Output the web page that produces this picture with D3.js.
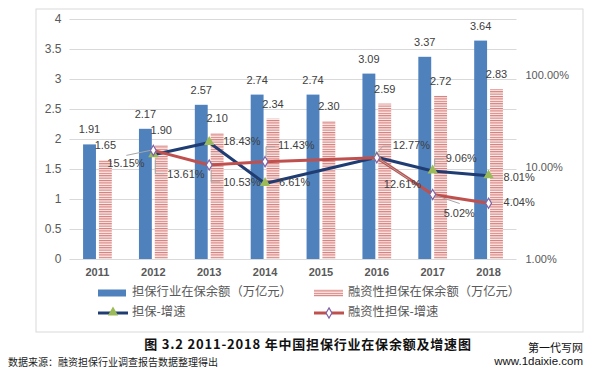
<!DOCTYPE html>
<html>
<head>
<meta charset="utf-8">
<script src="https://cdn.jsdelivr.net/npm/d3@7"></script>
<style>
  body { margin: 0; background: #fff; }
  text { font-family: "Liberation Sans", Arial, sans-serif; }
  .cjk { font-family: "Noto Sans CJK SC", sans-serif; }
</style>
</head>
<body>
<div id="chart"></div>
<script>
const years = ["2011", "2012", "2013", "2014", "2015", "2016", "2017", "2018"];
const balance = [1.91, 2.17, 2.57, 2.74, 2.74, 3.09, 3.37, 3.64];
const financing = [1.65, 1.9, 2.1, 2.34, 2.3, 2.59, 2.72, 2.83];
// growth in %, null where no point is drawn
const balanceGrowth = [null, 13.61, 18.43, 6.61, null, 12.77, 9.06, 8.01];
const financingGrowth = [null, 15.15, 10.53, 11.43, null, 12.61, 5.02, 4.04];
const leftTicks = [0, 0.5, 1, 1.5, 2, 2.5, 3, 3.5, 4];
const rightTicks = [1, 10, 100];
const seriesNames = ["担保行业在保余额（万亿元）", "融资性担保在保余额（万亿元）", "担保-增速", "融资性担保-增速"];

// label placement relative to the point: [dx, dy, leader points]
const balanceLabelPos = [
  null,
  [14, 20, [[2, 5], [2, 19], [11, 19]]],
  [14, 0, null],
  [14, 0, null],
  null,
  [16, -11, [[1, -5], [6, -11], [14, -11]]],
  [13, -12, [[2, -5], [2, -12], [11, -12]]],
  [15, 2, null]
];
const financingLabelPos = [
  null,
  [-46, 14, [[-27, 5], [-3, 0]]],
  [14, 18, [[2, 5], [2, 17], [11, 17]]],
  [13, -16, [[1, -5], [1, -15], [10, -15]]],
  null,
  [7, 27, [[3, 2], [33, 22]]],
  [11, 20, [[3, 1], [27, 9]]],
  [15, 0, null]
];

const width = 595, height = 377;
const margin = { top: 19, right: 74, bottom: 118, left: 69.5 };

const svg = d3.select("#chart").append("svg")
  .attr("width", width).attr("height", height)
  .attr("viewBox", [0, 0, width, height]);

const defs = svg.append("defs");
const pat = defs.append("pattern")
  .attr("id", "hatch").attr("patternUnits", "userSpaceOnUse")
  .attr("width", 4).attr("height", 2.4);
pat.append("rect").attr("width", 4).attr("height", 2.4).attr("fill", "#fbeeed");
pat.append("rect").attr("width", 4).attr("height", 1.1).attr("fill", "#d67a77");

// outer frame
svg.append("rect")
  .attr("x", 36).attr("y", 9).attr("width", 547).attr("height", 323)
  .attr("fill", "#fff").attr("stroke", "#d9d9d9");

const x = d3.scaleBand().domain(years)
  .range([margin.left, width - margin.right - 4.5]);
const xs = d3.scaleBand().domain(["a", "b"])
  .range([0, x.bandwidth()]).paddingInner(0.1875).paddingOuter(0.856);
const y = d3.scaleLinear().domain([0, 4]).range([height - margin.bottom, margin.top]);
const yR = d3.scaleLog().domain([1, 100]).range([height - margin.bottom, 75]);

// gridlines + left axis
svg.append("g")
  .attr("transform", `translate(${margin.left},0)`)
  .call(d3.axisLeft(y).tickValues(leftTicks).tickFormat(d3.format("")).tickSize(-(x.range()[1] - margin.left)).tickPadding(8))
  .call(g => g.select(".domain").remove())
  .call(g => g.selectAll(".tick line").attr("stroke", "#d9d9d9"))
  .call(g => g.selectAll(".tick text").attr("fill", "#595959").attr("font-size", 12));

// right axis
svg.append("g")
  .attr("transform", `translate(${x.range()[1]},0)`)
  .call(d3.axisRight(yR).tickValues(rightTicks).tickFormat(d => d3.format(".2f")(d) + "%").tickSize(0).tickPadding(9))
  .call(g => g.select(".domain").remove())
  .call(g => g.selectAll(".tick text").attr("fill", "#595959").attr("font-size", 11));

// x axis labels
svg.append("g")
  .attr("transform", `translate(0,${height - margin.bottom})`)
  .call(d3.axisBottom(x).tickSize(0).tickPadding(9))
  .call(g => g.select(".domain").remove())
  .call(g => g.selectAll(".tick text").attr("fill", "#595959").attr("font-size", 11).attr("font-weight", "bold"));

// bars
const barG = svg.append("g");
years.forEach((yr, i) => {
  barG.append("rect")
    .attr("x", x(yr) + xs("a")).attr("width", xs.bandwidth())
    .attr("y", y(balance[i])).attr("height", y(0) - y(balance[i]))
    .attr("fill", "#4f81bd");
  barG.append("rect")
    .attr("x", x(yr) + xs("b")).attr("width", xs.bandwidth())
    .attr("y", y(financing[i])).attr("height", y(0) - y(financing[i]))
    .attr("fill", "url(#hatch)");
});

// bar value labels
years.forEach((yr, i) => {
  [[balance, "a"], [financing, "b"]].forEach(([arr, k]) => {
    svg.append("text")
      .attr("x", x(yr) + xs(k) + xs.bandwidth() / 2)
      .attr("y", y(arr[i]) - 14)
      .attr("text-anchor", "middle").attr("dominant-baseline", "middle")
      .attr("font-size", 11).attr("fill", "#404040")
      .text(arr[i].toFixed(2));
  });
});

const cx = yr => x(yr) + x.bandwidth() / 2;

function drawGrowth(values, color, marker, labels) {
  const pts = years.map((yr, i) => ({ yr, v: values[i], pos: labels[i] })).filter(d => d.v != null);
  const line = d3.line().x(d => cx(d.yr)).y(d => yR(d.v));
  svg.append("path").datum(pts)
    .attr("d", line).attr("fill", "none")
    .attr("stroke", color).attr("stroke-width", 3).attr("stroke-linejoin", "round");

  const g = svg.append("g");
  pts.forEach(d => {
    const px = cx(d.yr), py = yR(d.v);
    if (marker === "tri") {
      g.append("path")
        .attr("d", d3.symbol(d3.symbolTriangle, 46)())
        .attr("transform", `translate(${px},${py - 0.5})`)
        .attr("fill", "#9bbb59");
    } else {
      g.append("path")
        .attr("d", d3.symbol(d3.symbolDiamond, 30)())
        .attr("transform", `translate(${px},${py})`)
        .attr("fill", "#fff").attr("stroke", "#7f63a3").attr("stroke-width", 1.2);
    }
  });
  return pts;
}

function drawLabels(pts) {
  pts.forEach(d => {
    const px = cx(d.yr), py = yR(d.v);
    const [dx, dy, leader] = d.pos;
    if (leader) {
      svg.append("polyline")
        .attr("points", leader.map(p => [px + p[0], py + p[1]].join(",")).join(" "))
        .attr("fill", "none").attr("stroke", "#a6a6a6").attr("stroke-width", 1);
    }
    svg.append("text")
      .attr("x", px + dx).attr("y", py + dy)
      .attr("dominant-baseline", "middle")
      .attr("font-size", 11).attr("fill", "#404040")
      .text(d.v.toFixed(2) + "%");
  });
}

const bPts = drawGrowth(balanceGrowth, "#1f3d73", "tri", balanceLabelPos);
const fPts = drawGrowth(financingGrowth, "#c0504d", "dia", financingLabelPos);
drawLabels(bPts);
drawLabels(fPts);

// legend
const legend = svg.append("g");
const legendItems = [
  { name: seriesNames[0], x: 98, y: 293, type: "bar" },
  { name: seriesNames[1], x: 314, y: 293, type: "hatch" },
  { name: seriesNames[2], x: 98, y: 313, type: "tri" },
  { name: seriesNames[3], x: 314, y: 313, type: "dia" }
];
legendItems.forEach(it => {
  if (it.type === "bar") {
    legend.append("rect").attr("x", it.x).attr("y", it.y - 3.5).attr("width", 28).attr("height", 7).attr("fill", "#4f81bd");
  } else if (it.type === "hatch") {
    legend.append("rect").attr("x", it.x).attr("y", it.y - 3.5).attr("width", 29).attr("height", 7).attr("fill", "url(#hatch)");
  } else {
    const col = it.type === "tri" ? "#1f3d73" : "#c0504d";
    legend.append("line").attr("x1", it.x).attr("x2", it.x + 30).attr("y1", it.y).attr("y2", it.y)
      .attr("stroke", col).attr("stroke-width", 3);
    if (it.type === "tri") {
      legend.append("path").attr("d", d3.symbol(d3.symbolTriangle, 46)())
        .attr("transform", `translate(${it.x + 15},${it.y - 0.5})`).attr("fill", "#9bbb59");
    } else {
      legend.append("path").attr("d", d3.symbol(d3.symbolDiamond, 30)())
        .attr("transform", `translate(${it.x + 15},${it.y})`)
        .attr("fill", "#fff").attr("stroke", "#7f63a3").attr("stroke-width", 1.2);
    }
  }
  legend.append("text")
    .attr("class", "cjk")
    .attr("x", it.x + 34)
    .attr("y", it.y).attr("dominant-baseline", "middle")
    .attr("font-size", 12.3).attr("fill", "#595959")
    .text(it.name);
});

// caption, source, watermark
svg.append("text").attr("class", "cjk")
  .attr("x", 308).attr("y", 345).attr("text-anchor", "middle").attr("dominant-baseline", "middle")
  .attr("font-size", 13).attr("font-weight", "bold").attr("letter-spacing", 0.8).attr("fill", "#111")
  .text("图 3.2 2011-2018 年中国担保行业在保余额及增速图");

svg.append("text").attr("class", "cjk")
  .attr("x", 8).attr("y", 363).attr("dominant-baseline", "middle")
  .attr("font-size", 10).attr("fill", "#222")
  .text("数据来源：融资担保行业调查报告数据整理得出");

svg.append("text").attr("class", "cjk")
  .attr("x", 583).attr("y", 349).attr("text-anchor", "end").attr("dominant-baseline", "middle")
  .attr("font-size", 11).attr("fill", "#111")
  .text("第一代写网");
svg.append("text")
  .attr("x", 583).attr("y", 362).attr("text-anchor", "end").attr("dominant-baseline", "middle")
  .attr("font-size", 11.5).attr("fill", "#111")
  .text("www.1daixie.com");
</script>
</body>
</html>
